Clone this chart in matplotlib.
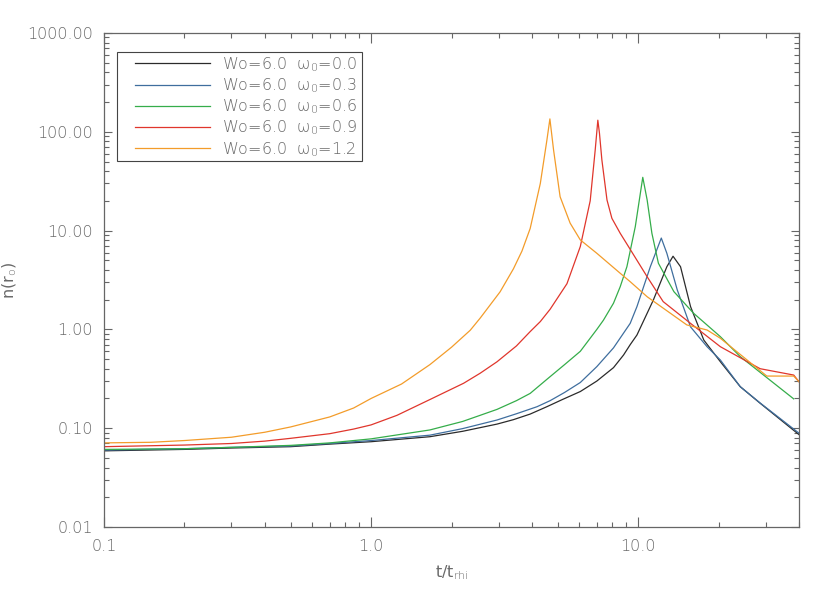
import numpy as np
import matplotlib
matplotlib.use('Agg')
import matplotlib.pyplot as plt
from matplotlib.patches import Rectangle
from matplotlib.ticker import FixedLocator, LogLocator, NullFormatter

# 读出来的曲线数据 (t/t_rhi, n(r_o))
x_w00 = [0.1, 0.2, 0.3, 0.5, 0.7, 1.0, 1.66, 2.2, 2.96, 3.41, 3.94, 4.55, 5.2, 6.07, 7.0, 8.08, 8.81, 9.33,
         9.89, 11.4, 12.8, 13.5, 14.4, 15.7, 17.6, 20.3, 24.1, 28.6, 40.0]
y_w00 = [0.059, 0.061, 0.063, 0.065, 0.069, 0.073, 0.082, 0.093, 0.110, 0.122, 0.139, 0.165, 0.195, 0.235,
         0.30, 0.41, 0.55, 0.70, 0.877, 1.99, 4.31, 5.5, 4.31, 1.70, 0.78, 0.471, 0.263, 0.179, 0.086]

x_w03 = [0.1, 0.2, 0.3, 0.5, 0.7, 1.0, 1.66, 2.2, 2.96, 3.5, 4.18, 4.68, 5.3, 6.07, 7.0, 8.08, 9.33, 9.89,
         11.1, 12.2, 12.8, 14.0, 15.7, 18.1, 20.3, 24.1, 28.6, 40.0]
y_w03 = [0.060, 0.062, 0.064, 0.066, 0.070, 0.075, 0.085, 0.099, 0.121, 0.14, 0.165, 0.19, 0.23, 0.29,
         0.42, 0.65, 1.15, 1.70, 4.31, 8.4, 5.89, 2.51, 1.06, 0.668, 0.49, 0.263, 0.18, 0.089]

x_w06 = [0.1, 0.2, 0.3, 0.5, 0.7, 1.0, 1.66, 2.2, 2.56, 2.96, 3.5, 3.94, 4.6, 5.3, 6.07, 7.0, 7.41, 8.08,
         8.56, 9.07, 9.75, 10.4, 10.8, 11.25, 11.9, 13.6, 16.1, 20.3, 24.1, 38.2]
y_w06 = [0.061, 0.062, 0.064, 0.067, 0.071, 0.078, 0.096, 0.117, 0.135, 0.155, 0.19, 0.225, 0.32, 0.44,
         0.60, 1.0, 1.24, 1.84, 2.7, 4.31, 10.96, 34.6, 20.4, 9.4, 4.67, 2.41, 1.46, 0.844, 0.53, 0.198]

x_w09 = [0.1, 0.2, 0.3, 0.4, 0.5, 0.7, 0.86, 1.0, 1.25, 1.66, 2.22, 2.56, 2.96, 3.5, 3.94, 4.3, 4.68, 5.41,
         6.07, 6.61, 6.9, 7.06, 7.16, 7.31, 7.64, 7.97, 8.56, 9.2, 10.8, 12.4, 15.7, 20.3, 28.6, 38.2, 40.0]
y_w09 = [0.065, 0.0675, 0.070, 0.074, 0.079, 0.088, 0.098, 0.108, 0.135, 0.195, 0.285, 0.36, 0.47, 0.68,
         0.95, 1.2, 1.6, 2.9, 6.9, 20.0, 65.0, 131.0, 96.6, 51.9, 20.4, 13.3, 9.4, 6.87, 3.41, 1.91, 1.15,
         0.668, 0.40, 0.345, 0.295]

x_w12 = [0.1, 0.15, 0.2, 0.3, 0.4, 0.5, 0.7, 0.86, 1.0, 1.3, 1.66, 2.0, 2.35, 2.56, 3.04, 3.41, 3.67, 3.94,
         4.30, 4.55, 4.67, 4.82, 5.1, 5.56, 6.07, 7.0, 8.56, 9.33, 10.8, 15.2, 18.1, 20.3, 30.3, 38.2, 40.0]
y_w12 = [0.071, 0.072, 0.075, 0.081, 0.091, 0.103, 0.130, 0.160, 0.20, 0.28, 0.44, 0.66, 0.98, 1.3, 2.4,
         4.1, 6.2, 10.5, 30.0, 82.0, 135.0, 65.5, 22.0, 11.9, 8.04, 5.89, 3.7, 3.04, 2.14, 1.11, 0.986,
         0.813, 0.337, 0.337, 0.295]

labels = [r'Wo=6.0  $\omega_0$=0.0', r'Wo=6.0  $\omega_0$=0.3', r'Wo=6.0  $\omega_0$=0.6',
          r'Wo=6.0  $\omega_0$=0.9', r'Wo=6.0  $\omega_0$=1.2']
colors = ['#2b2b2b', '#3f6e9e', '#35ad4a', '#e0362c', '#f39c2a']

xticks = [0.1, 1.0, 10.0]
xticklabels = ['0.1', '1.0', '10.0']
yticks = [0.01, 0.1, 1.0, 10.0, 100.0, 1000.0]
yticklabels = ['0.01', '0.10', '1.00', '10.00', '100.00', '1000.00']

plt.rcParams['font.family'] = ['DejaVu Sans']
plt.rcParams['font.weight'] = 'light'
plt.rcParams['mathtext.fontset'] = 'custom'
plt.rcParams['mathtext.rm'] = 'DejaVu Sans:light'
plt.rcParams['mathtext.it'] = 'DejaVu Sans:light'
txtcol = '#6a6a6a'

fig = plt.figure(figsize=(8.3, 5.93), dpi=100)
ax = fig.add_axes([0.1253, 0.1113, 0.8374, 0.8331])

xs = [x_w00, x_w03, x_w06, x_w09, x_w12]
ys = [y_w00, y_w03, y_w06, y_w09, y_w12]
for i in range(5):
    ax.plot(xs[i], ys[i], color=colors[i], lw=0.9, label=labels[i])

ax.set_xscale('log')
ax.set_yscale('log')
ax.set_xlim(0.1, 40.0)
ax.set_ylim(0.01, 1000.0)

ax.xaxis.set_major_locator(FixedLocator(xticks))
ax.set_xticklabels(xticklabels)
ax.yaxis.set_major_locator(FixedLocator(yticks))
ax.set_yticklabels(yticklabels)
ax.xaxis.set_minor_locator(LogLocator(base=10, subs=np.arange(2, 10), numticks=20))
ax.yaxis.set_minor_locator(LogLocator(base=10, subs=np.arange(2, 10), numticks=20))
ax.xaxis.set_minor_formatter(NullFormatter())
ax.yaxis.set_minor_formatter(NullFormatter())

ax.tick_params(which='both', direction='in', top=True, right=True, colors='#666666',
               labelcolor=txtcol, labelsize=11.5, width=0.8)
ax.tick_params(axis='x', which='major', length=7.5, pad=9)
ax.tick_params(axis='x', which='minor', length=3.8)
ax.tick_params(axis='y', which='major', length=5.5, pad=8)
ax.tick_params(axis='y', which='minor', length=3.8)
for s in ax.spines.values():
    s.set_color('#666666')
    s.set_linewidth(0.9)

ax.set_xlabel(r't/t$_{\mathrm{rhi}}$', color=txtcol, fontsize=11.5, labelpad=6)
ax.set_ylabel(r'n(r$_{\mathrm{o}}$)', color=txtcol, fontsize=11.5)
ax.yaxis.set_label_coords(-0.122, 0.5)

# 图例外框单独画，留出左边的空白
ax.add_patch(Rectangle((0.0187, 0.7409), 0.3525, 0.2206, transform=ax.transAxes,
                       fill=True, facecolor='white', edgecolor='#444444', lw=0.8, zorder=4))
leg = ax.legend(loc='upper left', bbox_to_anchor=(0.0446, 0.9555), borderaxespad=0.0,
                fontsize=11.5, frameon=False, handlelength=4.7,
                handletextpad=0.75, borderpad=0.0, labelspacing=0.16, labelcolor=txtcol)
leg.set_zorder(5)

fig.savefig('out.png', dpi=100)
